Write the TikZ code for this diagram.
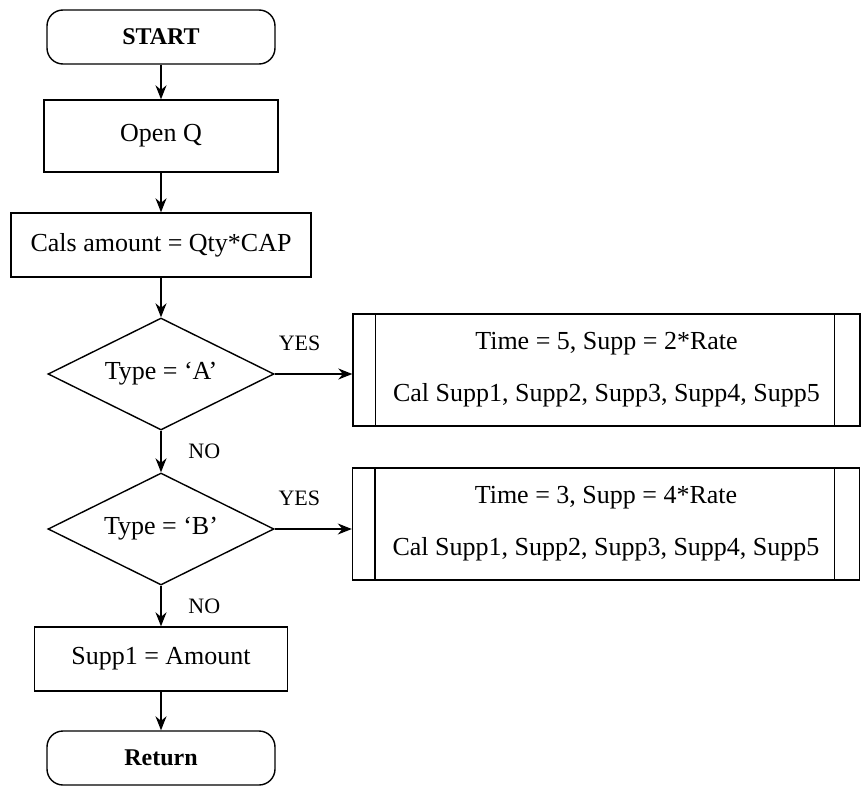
\documentclass[tikz,border=0pt]{standalone}
\usepackage{fontspec}
\setmainfont{Liberation Serif}
\usetikzlibrary{arrows.meta,positioning,shapes.geometric}

\begin{document}
\begin{tikzpicture}[
    x=0.5pt, y=-0.5pt,
    every node/.style={font=\fontsize{13}{15}\selectfont},
    term/.style={draw, rounded corners=8pt, line width=0.7pt, minimum width=114pt, minimum height=27pt, font=\fontsize{12}{14}\selectfont\bfseries},
    proc/.style={draw, line width=0.7pt, minimum height=32pt},
    dec/.style={draw, diamond, aspect=2, line width=0.7pt, minimum width=113pt, minimum height=56pt, inner sep=0pt},
    sub/.style={draw, line width=0.7pt, minimum width=253.5pt, minimum height=56pt, align=center},
    lbl/.style={font=\fontsize{11}{13}\selectfont},
    arr/.style={-{Stealth[length=7pt,width=5.5pt]}, line width=0.7pt}
]
\useasboundingbox (0,0) rectangle (862,787);

% 開始
\node[term] (start) at (161,37) {START};
\node[proc, minimum width=117pt, minimum height=36pt] (open) at (161,136) {Open Q};
\node[proc, minimum width=150pt] (cals) at (161,245) {Cals amount = Qty*CAP};

% 判定
\node[dec] (ta) at (161,374) {Type = `A'};
\node[dec] (tb) at (161,529) {Type = `B'};

% サブルーチン
\node[sub] (sa) at (606.5,370) {Time = 5, Supp = 2*Rate\\[11pt]Cal Supp1, Supp2, Supp3, Supp4, Supp5};
\node[sub] (sb) at (606,524) {Time = 3, Supp = 4*Rate\\[11pt]Cal Supp1, Supp2, Supp3, Supp4, Supp5};
\foreach \b in {sa,sb} {
    \draw[line width=0.7pt] ([xshift=11.5pt]\b.north west) -- ([xshift=11.5pt]\b.south west);
    \draw[line width=0.7pt] ([xshift=-13pt]\b.north east) -- ([xshift=-13pt]\b.south east);
}

% 終了
\node[proc, minimum width=126.5pt] (supp) at (161,659) {Supp1 = Amount};
\node[term] (ret) at (161,758) {Return};

% 矢印
\draw[arr] (start) -- (open);
\draw[arr] (open) -- (cals);
\draw[arr] (cals) -- (ta);
\draw[arr] (ta) -- node[lbl, right=10pt] {NO} (tb);
\draw[arr] (tb) -- node[lbl, right=10pt] {NO} (supp);
\draw[arr] (supp) -- (ret);
\draw[arr] (ta.east) -- node[lbl, pos=0.32, above=8pt] {YES} (ta.east -| sa.west);
\draw[arr] (tb.east) -- node[lbl, pos=0.32, above=8pt] {YES} (tb.east -| sb.west);

\end{tikzpicture}
\end{document}
